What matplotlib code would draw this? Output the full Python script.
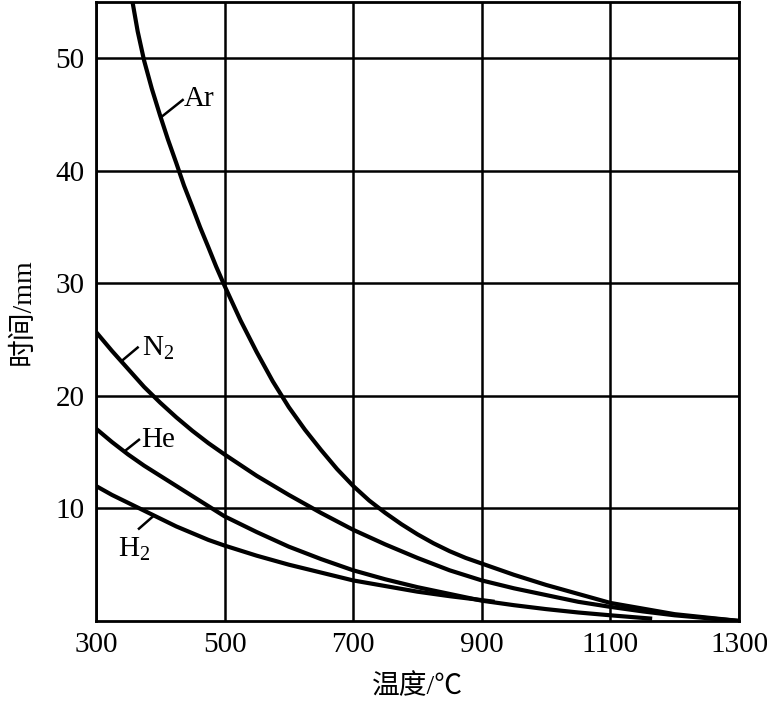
import matplotlib
matplotlib.use("Agg")
import matplotlib.pyplot as plt

plt.rcParams['font.family'] = ['Liberation Serif', 'Noto Sans CJK SC', 'DejaVu Sans']
plt.rcParams['mathtext.fontset'] = 'custom'
plt.rcParams['mathtext.rm'] = 'Liberation Serif'
plt.rcParams['mathtext.it'] = 'Liberation Serif:italic'

# values (temperature in C, value in mm)
ar_t = [357, 365, 375, 387, 400, 412, 425, 437, 450, 462, 475, 487, 500, 525, 550, 575, 600,
        625, 650, 675, 700, 725, 750, 775, 800, 825, 850, 875, 900, 950, 1000, 1050,
        1100, 1150, 1200, 1250, 1300]
ar_v = [55, 52.4, 49.8, 47.3, 44.9, 42.8, 40.7, 38.7, 36.8, 35.0, 33.2, 31.5, 29.8, 26.7,
        23.9, 21.3, 19.0, 17.0, 15.2, 13.5, 12.0, 10.7, 9.6, 8.6, 7.7, 6.9, 6.2, 5.6, 5.1,
        4.1, 3.2, 2.4, 1.6, 1.1, 0.6, 0.3, 0]

n2_t = [300, 325, 350, 375, 400, 425, 450, 475, 500, 550, 600, 650, 700, 750, 800, 850,
        900, 950, 1000, 1050, 1100, 1150, 1200, 1250, 1300]
n2_v = [25.7, 24.0, 22.4, 20.8, 19.4, 18.1, 16.9, 15.8, 14.8, 12.9, 11.2, 9.6, 8.1, 6.8,
        5.6, 4.5, 3.6, 2.9, 2.3, 1.7, 1.25, 0.85, 0.5, 0.25, 0]

he_t = [300, 325, 350, 375, 400, 425, 450, 475, 500, 550, 600, 650, 700, 750, 800, 850,
        900, 950, 1000, 1050, 1100, 1165]
he_v = [17.1, 15.9, 14.8, 13.8, 12.9, 12.0, 11.1, 10.2, 9.3, 7.9, 6.6, 5.5, 4.5, 3.7,
        3.0, 2.4, 1.8, 1.4, 1.05, 0.75, 0.5, 0.2]

h2_t = [300, 325, 350, 375, 400, 425, 450, 475, 500, 550, 600, 650, 700, 750, 800, 850,
        900, 920]
h2_v = [12.0, 11.2, 10.5, 9.8, 9.1, 8.4, 7.8, 7.2, 6.7, 5.8, 5.0, 4.3, 3.6, 3.1, 2.6,
        2.2, 1.85, 1.7]

x_ticks = [300, 500, 700, 900, 1100, 1300]
y_ticks = [10, 20, 30, 40, 50]

fig = plt.figure(figsize=(7.67, 7.04), dpi=100)
ax = fig.add_axes([0.125, 0.118, 0.8385, 0.879])

for t, v in [(ar_t, ar_v), (n2_t, n2_v), (he_t, he_v), (h2_t, h2_v)]:
    ax.plot(t, v, color='black', lw=3.0, solid_capstyle='butt',
            solid_joinstyle='round', zorder=3)

ax.set_xlim(300, 1300)
ax.set_ylim(0, 55)
ax.set_xticks(x_ticks)
ax.set_yticks(y_ticks)
ax.grid(True, color='black', lw=1.8)
for s in ax.spines.values():
    s.set_linewidth(2.0)
ax.tick_params(length=0, labelsize=21, pad=8)

ax.set_xlabel('温度/℃', fontsize=20, labelpad=12)
ax.set_ylabel('时间/mm', fontsize=20, labelpad=14)

# curve labels with short leader lines
lab = dict(fontsize=21, va='center', ha='left')
ax.plot([402, 435], [44.8, 46.3], color='black', lw=1.8)
ax.text(437, 46.4, 'Ar', **lab)
ax.plot([340, 365], [23.1, 24.3], color='black', lw=1.8)
ax.text(371, 24.2, 'N$_2$', **lab)
ax.plot([345, 367], [15.1, 16.1], color='black', lw=1.8)
ax.text(371, 16.1, 'He', **lab)
ax.plot([389, 367], [9.3, 8.2], color='black', lw=1.8)
ax.text(359, 6.4, 'H$_2$', fontsize=21, va='center', ha='center')

fig.savefig('out.png', dpi=100)
